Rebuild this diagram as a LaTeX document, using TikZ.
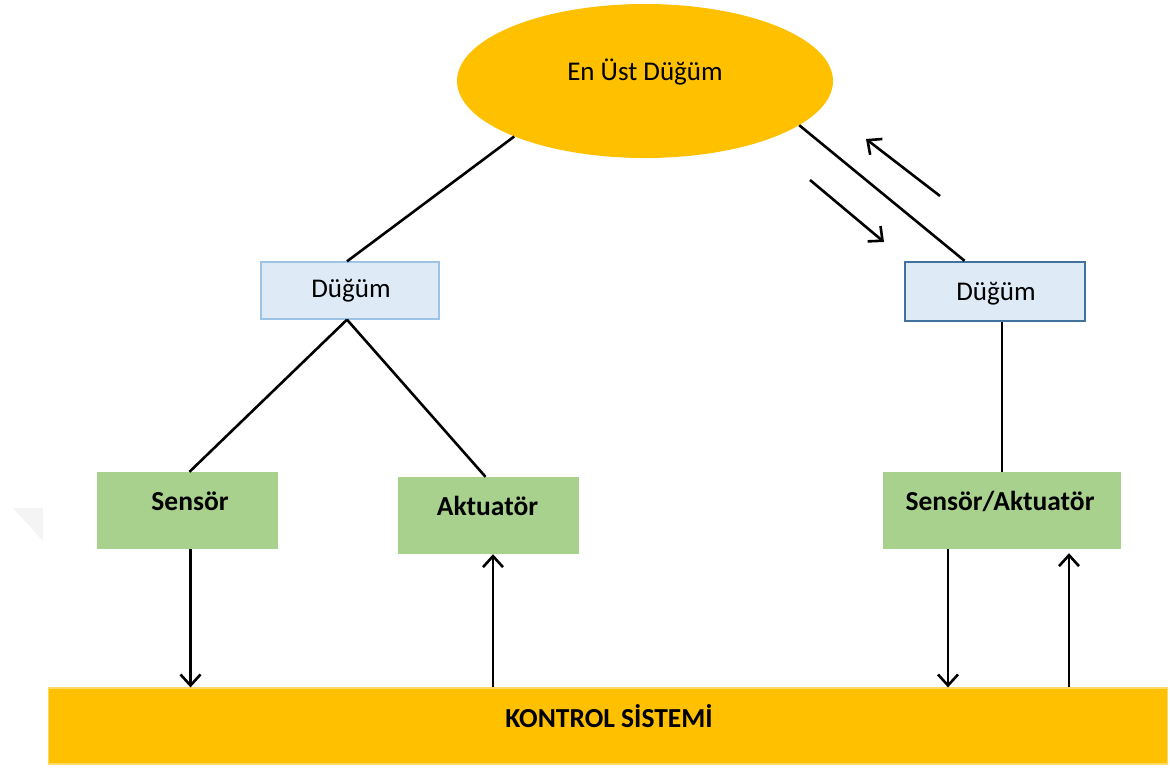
\documentclass[tikz,border=0pt]{standalone}
\usepackage{fontspec}
\setmainfont{Carlito}
\usetikzlibrary{shapes.geometric,arrows.meta,calc}
\definecolor{gold}{HTML}{FFC000}
\definecolor{goldedge}{HTML}{FFD966}
\definecolor{leaf}{HTML}{A9D18E}
\definecolor{paleblue}{HTML}{DEEBF7}
\definecolor{lightedge}{HTML}{9DC3E6}
\definecolor{darkedge}{HTML}{41719C}
\begin{document}
\begin{tikzpicture}[x=1pt,y=-1pt,
  link/.style={line width=2.6pt,black},
  flow/.style={link,-{Straight Barb[length=11pt,width=20pt,line width=2.6pt]}},
  nodebox/.style={rectangle,fill=paleblue,inner sep=0pt},
  leafbox/.style={rectangle,fill=leaf,inner sep=0pt,minimum width=181pt,minimum height=77pt},
  plain/.style={font=\fontsize{27}{31}\selectfont,inner sep=0pt,anchor=base},
  strong/.style={font=\fontsize{27.5}{31}\selectfont\bfseries,inner sep=0pt,anchor=base}]
\useasboundingbox (0,0) rectangle (1170,769);

% faint mark at the left edge
\fill[gray!9] (13,508) -- (43,508) -- (43,541) -- cycle;

% shapes
\node[ellipse,fill=gold,inner sep=0pt,minimum width=376pt,minimum height=154pt] (top) at (645,81) {};
\node[nodebox,draw=lightedge,line width=1.3pt,minimum width=178pt,minimum height=57pt] (dl) at (350,290.5) {};
\node[nodebox,draw=darkedge,line width=2.4pt,minimum width=180pt,minimum height=59pt] (dr) at (995,291.5) {};
\node[leafbox] (sl) at (187.5,510.5) {};
\node[leafbox] (al) at (488.5,515.5) {};
\node[leafbox,minimum width=238pt] (sa) at (1002,510.5) {};
\node[rectangle,fill=gold,draw=goldedge,line width=1.2pt,inner sep=0pt,minimum width=1119pt,minimum height=76pt] (bar) at (608,726) {};

% labels
\node[plain] (toptxt) at (645,80) {En Üst Düğüm};
\node[plain] (dltxt) at (351,297) {Düğüm};
\node[plain] (drtxt) at (996,300) {Düğüm};
\node[strong] (sltxt) at (190,510) {Sensör};
\node[strong] (altxt) at (487.5,515) {Aktuatör};
\node[strong] (satxt) at (1000,510) {Sensör/Aktuatör};
\node[strong] (bartxt) at (609,727) {KONTROL SİSTEMİ};

% tree links
\draw[link] (top.203) -- ([xshift=-3pt]dl.north);
\draw[link] (top.344) -- ($(dr.north west)!0.333!(dr.north east)$);
\draw[link] ([xshift=-3pt]dl.south) -- ([xshift=2pt]sl.north);
\draw[link] ([xshift=-3pt]dl.south) -- ([xshift=-3pt]al.north);
\draw[link] (sa.north) -- (sa.north |- dr.south);

% signal flow to and from the control system
\draw[flow] ([xshift=3pt]sl.south) -- ([xshift=3pt]sl.south |- bar.north);
\draw[flow] ([xshift=4.5pt]al.south |- bar.north) -- ([xshift=4.5pt]al.south);
\draw[flow] ([xshift=-54pt]sa.south) -- ([xshift=-54pt]sa.south |- bar.north);
\draw[flow,shorten >=4pt] ([xshift=67pt]sa.south |- bar.north) -- ([xshift=67pt]sa.south);

% messages between the top node and the right node
\coordinate (dn1) at (810,180);
\coordinate (dn2) at (884,242);
\coordinate (up1) at (940,196);
\coordinate (up2) at (866,139);
\draw[flow] (dn1) -- (dn2);
\draw[flow] (up1) -- (up2);
\end{tikzpicture}
\end{document}
